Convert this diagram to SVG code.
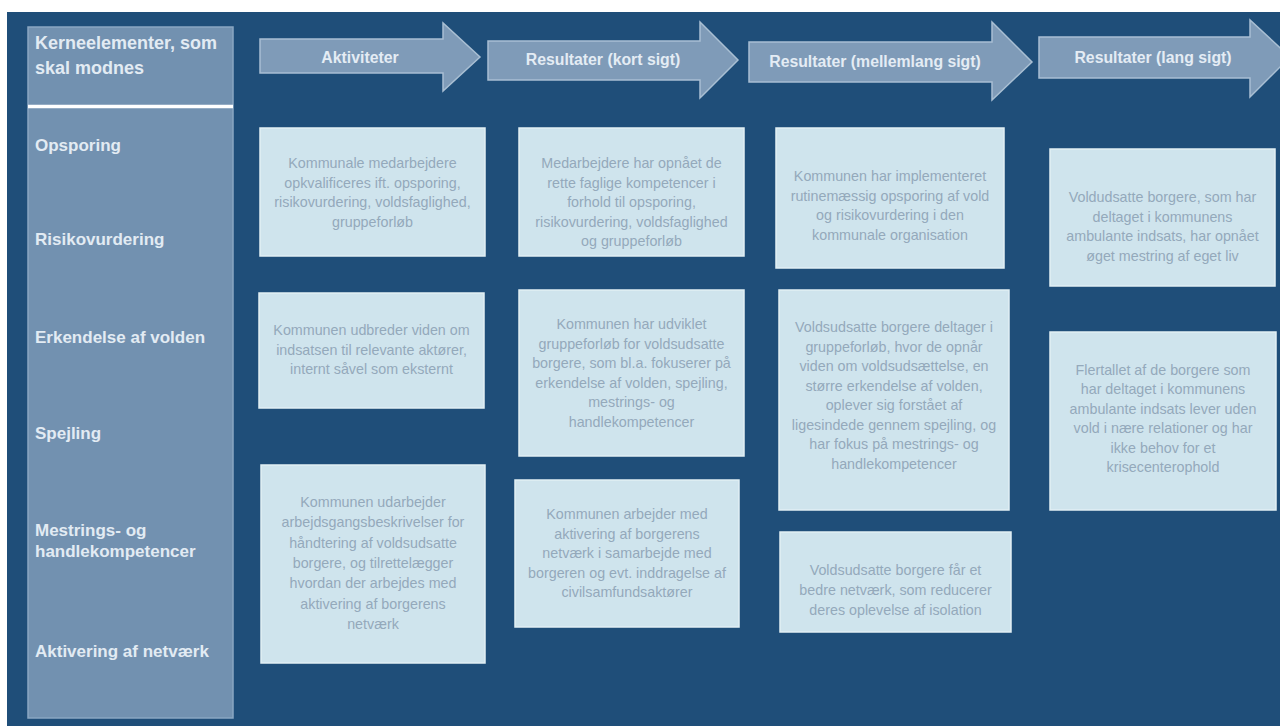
<svg xmlns="http://www.w3.org/2000/svg" width="1280" height="726" viewBox="0 0 1280 726">
  <style>
    .bg { fill: #1f4e79; }
    .col { fill: #7291b0; stroke: #8aa7c2; stroke-width: 1.5; }
    .arrow { fill: #7f9bb8; stroke: #a9bfd3; stroke-width: 1.5; stroke-linejoin: miter; }
    .box { fill: #cfe4ed; stroke: #e2eff4; stroke-width: 1.5; }
    .lbl { font-family: "Liberation Sans", Arial, sans-serif; font-weight: bold; font-size: 17px; fill: #e2ebf3; }
    .hdr { font-family: "Liberation Sans", Arial, sans-serif; font-weight: bold; font-size: 18px; fill: #e2ebf3; }
    .atxt { font-family: "Liberation Sans", Arial, sans-serif; font-weight: bold; font-size: 15.8px; fill: #e4ecf4; text-anchor: middle; }
    .btxt { font-family: "Liberation Sans", Arial, sans-serif; font-size: 14.3px; fill: #94a9bb; text-anchor: middle; }
  </style>
  <rect x="0" y="0" width="1280" height="726" fill="#ffffff"/>
  <rect class="bg" x="7" y="12" width="1273" height="714"/>

  <g id="kerneelementer">
    <rect class="col" x="28" y="27" width="205" height="691"/>
    <line x1="28" y1="106.5" x2="233" y2="106.5" stroke="#ffffff" stroke-width="3.5"/>
    <text class="hdr" x="35" y="49">Kerneelementer, som</text>
    <text class="hdr" x="35" y="74">skal modnes</text>
    <text class="lbl" x="35" y="151">Opsporing</text>
    <text class="lbl" x="35" y="245">Risikovurdering</text>
    <text class="lbl" x="35" y="343">Erkendelse af volden</text>
    <text class="lbl" x="35" y="439">Spejling</text>
    <text class="lbl" x="35" y="536">Mestrings- og</text>
    <text class="lbl" x="35" y="557">handlekompetencer</text>
    <text class="lbl" x="35" y="657">Aktivering af netværk</text>
  </g>

  <g id="arrow-aktiviteter">
    <path class="arrow" d="M260,39 H443 V23 L480,57 L443,91 V73 H260 Z"/>
    <text class="atxt" x="360" y="63">Aktiviteter</text>
  </g>
  <g id="arrow-kort">
    <path class="arrow" d="M488,41 H700 V22 L738,60 L700,98 V80 H488 Z"/>
    <text class="atxt" x="603" y="65">Resultater (kort sigt)</text>
  </g>
  <g id="arrow-mellemlang">
    <path class="arrow" d="M749,42 H992 V22 L1032,62 L992,100 V82 H749 Z"/>
    <text class="atxt" x="875" y="67">Resultater (mellemlang sigt)</text>
  </g>
  <g id="arrow-lang">
    <path class="arrow" d="M1039,37 H1250 V20 L1290,57 L1250,97 V78 H1039 Z"/>
    <text class="atxt" x="1153" y="63">Resultater (lang sigt)</text>
  </g>

  <g id="a1">
    <rect class="box" x="260" y="128" width="225" height="128"/>
    <text class="btxt" x="372.5" y="168">Kommunale medarbejdere</text>
    <text class="btxt" x="372.5" y="187.5">opkvalificeres ift. opsporing,</text>
    <text class="btxt" x="372.5" y="207">risikovurdering, voldsfaglighed,</text>
    <text class="btxt" x="372.5" y="226.5">gruppeforløb</text>
  </g>
  <g id="a2">
    <rect class="box" x="259" y="293" width="225" height="115"/>
    <text class="btxt" x="371.5" y="335">Kommunen udbreder viden om</text>
    <text class="btxt" x="371.5" y="354.5">indsatsen til relevante aktører,</text>
    <text class="btxt" x="371.5" y="374">internt såvel som eksternt</text>
  </g>
  <g id="a3">
    <rect class="box" x="261" y="465" width="224" height="198"/>
    <text class="btxt" x="373" y="507">Kommunen udarbejder</text>
    <text class="btxt" x="373" y="527.3">arbejdsgangsbeskrivelser for</text>
    <text class="btxt" x="373" y="547.6">håndtering af voldsudsatte</text>
    <text class="btxt" x="373" y="567.9">borgere, og tilrettelægger</text>
    <text class="btxt" x="373" y="588.2">hvordan der arbejdes med</text>
    <text class="btxt" x="373" y="608.5">aktivering af borgerens</text>
    <text class="btxt" x="373" y="628.8">netværk</text>
  </g>

  <g id="b1">
    <rect class="box" x="519" y="128" width="225" height="128"/>
    <text class="btxt" x="631.5" y="168">Medarbejdere har opnået de</text>
    <text class="btxt" x="631.5" y="187.5">rette faglige kompetencer i</text>
    <text class="btxt" x="631.5" y="207">forhold til opsporing,</text>
    <text class="btxt" x="631.5" y="226.5">risikovurdering, voldsfaglighed</text>
    <text class="btxt" x="631.5" y="246">og gruppeforløb</text>
  </g>
  <g id="b2">
    <rect class="box" x="519" y="290" width="225" height="166"/>
    <text class="btxt" x="631.5" y="329">Kommunen har udviklet</text>
    <text class="btxt" x="631.5" y="348.5">gruppeforløb for voldsudsatte</text>
    <text class="btxt" x="631.5" y="368">borgere, som bl.a. fokuserer på</text>
    <text class="btxt" x="631.5" y="387.5">erkendelse af volden, spejling,</text>
    <text class="btxt" x="631.5" y="407">mestrings- og</text>
    <text class="btxt" x="631.5" y="426.5">handlekompetencer</text>
  </g>
  <g id="b3">
    <rect class="box" x="515" y="480" width="224" height="147"/>
    <text class="btxt" x="627" y="519">Kommunen arbejder med</text>
    <text class="btxt" x="627" y="538.5">aktivering af borgerens</text>
    <text class="btxt" x="627" y="558">netværk i samarbejde med</text>
    <text class="btxt" x="627" y="577.5">borgeren og evt. inddragelse af</text>
    <text class="btxt" x="627" y="597">civilsamfundsaktører</text>
  </g>

  <g id="c1">
    <rect class="box" x="776" y="128" width="228" height="140"/>
    <text class="btxt" x="890" y="181">Kommunen har implementeret</text>
    <text class="btxt" x="890" y="200.5">rutinemæssig opsporing af vold</text>
    <text class="btxt" x="890" y="220">og risikovurdering i den</text>
    <text class="btxt" x="890" y="239.5">kommunale organisation</text>
  </g>
  <g id="c2">
    <rect class="box" x="779" y="290" width="230" height="220"/>
    <text class="btxt" x="894" y="332">Voldsudsatte borgere deltager i</text>
    <text class="btxt" x="894" y="351.5">gruppeforløb, hvor de opnår</text>
    <text class="btxt" x="894" y="371">viden om voldsudsættelse, en</text>
    <text class="btxt" x="894" y="390.5">større erkendelse af volden,</text>
    <text class="btxt" x="894" y="410">oplever sig forstået af</text>
    <text class="btxt" x="894" y="429.5">ligesindede gennem spejling, og</text>
    <text class="btxt" x="894" y="449">har fokus på mestrings- og</text>
    <text class="btxt" x="894" y="468.5">handlekompetencer</text>
  </g>
  <g id="c3">
    <rect class="box" x="780" y="532" width="231" height="100"/>
    <text class="btxt" x="895.5" y="575">Voldsudsatte borgere får et</text>
    <text class="btxt" x="895.5" y="595">bedre netværk, som reducerer</text>
    <text class="btxt" x="895.5" y="615">deres oplevelse af isolation</text>
  </g>

  <g id="d1">
    <rect class="box" x="1050" y="149" width="225" height="137"/>
    <text class="btxt" x="1162.5" y="202">Voldudsatte borgere, som har</text>
    <text class="btxt" x="1162.5" y="221.5">deltaget i kommunens</text>
    <text class="btxt" x="1162.5" y="241">ambulante indsats, har opnået</text>
    <text class="btxt" x="1162.5" y="260.5">øget mestring af eget liv</text>
  </g>
  <g id="d2">
    <rect class="box" x="1050" y="332" width="226" height="178"/>
    <text class="btxt" x="1163" y="374.5">Flertallet af de borgere som</text>
    <text class="btxt" x="1163" y="394">har deltaget i kommunens</text>
    <text class="btxt" x="1163" y="413.5">ambulante indsats lever uden</text>
    <text class="btxt" x="1163" y="433">vold i nære relationer og har</text>
    <text class="btxt" x="1163" y="452.5">ikke behov for et</text>
    <text class="btxt" x="1163" y="472">krisecenterophold</text>
  </g>

  <g id="connectors"></g>
</svg>
